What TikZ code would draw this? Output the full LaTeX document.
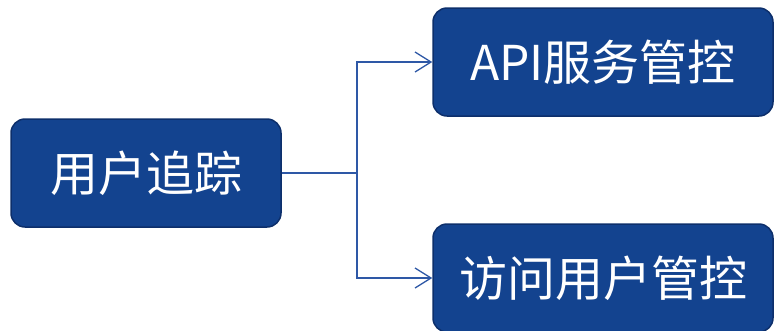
\documentclass[tikz,border=0pt]{standalone}
\usepackage{fontspec}
\setmainfont{Noto Sans CJK SC}
\usetikzlibrary{arrows.meta}
\definecolor{boxfill}{HTML}{13438F}
\definecolor{boxdraw}{HTML}{0D2F6B}
\definecolor{linkcol}{HTML}{2E58A6}
\tikzset{
  box/.style={draw=boxdraw, line width=1.5pt, fill=boxfill, rounded corners=14pt,
    text=white, font=\fontsize{48}{52}\selectfont, inner sep=0pt, anchor=center},
  link/.style={draw=linkcol, line width=1.3pt, -{Straight Barb[length=16pt,width=20pt,line width=1.3pt]}}
}
\begin{document}
\begin{tikzpicture}[x=1pt,y=-1pt]
\useasboundingbox (0,0) rectangle (774,330);
\clip (0,0) rectangle (774,330);
\node[box, minimum width=270pt, minimum height=108pt] (src) at (146,173) {用户追踪};
\node[box, minimum width=340pt, minimum height=108pt] (api) at (603,62) {API服务管控};
\node[box, minimum width=340pt, minimum height=108pt] (usr) at (603,278) {访问用户管控};
\coordinate (fork) at (357,173);
\draw[link] (src.east) -- (fork) |- (api.west);
\draw[link] (fork) |- (usr.west);
\end{tikzpicture}
\end{document}
